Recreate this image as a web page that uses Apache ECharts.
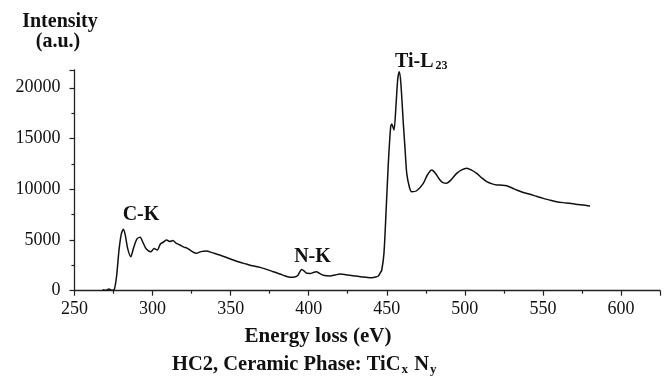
<!DOCTYPE html>
<html>
<head>
<meta charset="utf-8">
<script src="https://cdn.jsdelivr.net/npm/echarts@6/dist/echarts.min.js"></script>
<style>
html,body{margin:0;padding:0;background:#fff;}
#chart{width:667px;height:384px;}
</style>
</head>
<body>
<div id="chart"></div>
<script>
// Energy loss (eV)
const energy = [
  268, 270, 272, 274, 275.5, 277, 278.5, 280, 281.3, 282.5, 284, 286, 288, 290, 292, 294, 296, 298.8,
  301, 303, 305, 307, 309, 311, 313, 315, 317.6, 320, 322, 325, 328, 331, 334.7, 338, 343, 347,
  351.7, 356, 360, 364, 368.8, 373, 377.3, 381.6, 385, 388, 391, 393, 395.5, 397, 398.7, 401,
  403, 405, 407, 409.4, 413.6, 417, 420, 423, 426.5, 430, 433, 437, 440.3, 443, 444.6, 446,
  446.8, 448.2, 449.5, 451, 452.5, 453.2, 454.6, 456, 457, 458, 459, 460.6, 461.7, 462.8, 464.5,
  466, 469.2, 473.4, 476, 478.8, 481, 484.1, 486, 488.4, 491, 494.8, 498, 501.2, 504, 507.6, 511,
  514, 517, 520.4, 524, 526.8, 530, 533.2, 537, 541.8, 546, 550.3, 554, 558.8, 563, 567.4, 571,
  575.9, 578, 580.2
];
// Intensity (a.u.)
const intensity = [
  100, 40, 160, 40, 120, 1500, 4000, 5600, 6050, 5500, 4200, 3350, 4300, 5100, 5260, 4700, 4100, 3840,
  4150, 4000, 4600, 4800, 4990, 4850, 4950, 4700, 4500, 4300, 4200, 3900, 3680, 3850, 3910, 3750, 3520, 3300,
  3020, 2800, 2630, 2450, 2300, 2100, 1870, 1645, 1450, 1320, 1350, 1500, 2100, 1950, 1710, 1700,
  1800, 1870, 1700, 1515, 1450, 1550, 1645, 1600, 1515, 1450, 1380, 1320, 1280, 1350, 1450, 1800,
  2040, 3680, 7620, 12550, 16160, 16420, 15830, 18500, 20800, 21580, 20500, 16490, 14000, 11560, 10200,
  9750, 9850, 10580, 11400, 11890, 11600, 10900, 10650, 10580, 10900, 11560, 11900, 12060, 11900, 11560, 11100,
  10740, 10550, 10410, 10400, 10340, 10150, 9920, 9700, 9500, 9300, 9100, 8950, 8770, 8680, 8610, 8520,
  8440, 8400, 8340
];
const xTicks = [250, 300, 350, 400, 450, 500, 550, 600];
const yTicks = [0, 5000, 10000, 15000, 20000];

const serif = '"Liberation Serif", "Times New Roman", serif';
const data = energy.map((e, i) => [e, intensity[i]]);

const chart = echarts.init(document.getElementById('chart'), null, {renderer: 'canvas'});
chart.setOption({
  animation: false,
  backgroundColor: '#fff',
  grid: {left: 74.5, right: 7, top: 70, bottom: 93.3, containLabel: false},
  xAxis: {
    type: 'value', min: 250, max: 625, interval: 50,
    axisLine: {lineStyle: {color: '#222', width: 1.3}},
    axisTick: {show: true, length: 5, inside: false, lineStyle: {color: '#222', width: 1.2}},
    minorTick: {show: true, splitNumber: 2, length: 3, lineStyle: {color: '#222', width: 1.2}},
    splitLine: {show: false},
    axisLabel: {
      color: '#111', fontFamily: serif, fontSize: 18, margin: 10, showMaxLabel: false,
      formatter: v => (xTicks.indexOf(v) >= 0 ? String(v) : '')
    }
  },
  yAxis: {
    type: 'value', min: 0, max: 21750, interval: 5000,
    axisLine: {show: true, lineStyle: {color: '#222', width: 1.3}},
    axisTick: {show: true, length: 5, inside: false, lineStyle: {color: '#222', width: 1.2}},
    minorTick: {show: true, splitNumber: 2, length: 3, lineStyle: {color: '#222', width: 1.2}},
    splitLine: {show: false},
    axisLabel: {
      color: '#111', fontFamily: serif, fontSize: 18, margin: 14, showMaxLabel: false,
      formatter: v => (yTicks.indexOf(v) >= 0 ? String(v) : '')
    }
  },
  series: [{
    type: 'line', data: data, showSymbol: false, smooth: 0.25,
    lineStyle: {color: '#111', width: 1.5}
  }],
  graphic: [
    {type: 'text', x: 60, y: 22, style: {text: 'Intensity', font: 'bold 20px ' + serif, fill: '#111', align: 'center', verticalAlign: 'middle', textAlign: 'center', textVerticalAlign: 'middle'}},
    {type: 'text', x: 58, y: 42, style: {text: '(a.u.)', font: 'bold 20px ' + serif, fill: '#111', align: 'center', verticalAlign: 'middle', textAlign: 'center', textVerticalAlign: 'middle'}},
    {type: 'text', x: 141, y: 215, style: {text: 'C-K', font: 'bold 20px ' + serif, fill: '#111', align: 'center', verticalAlign: 'middle', textAlign: 'center', textVerticalAlign: 'middle'}},
    {type: 'text', x: 312.5, y: 256.5, style: {text: 'N-K', font: 'bold 20px ' + serif, fill: '#111', align: 'center', verticalAlign: 'middle', textAlign: 'center', textVerticalAlign: 'middle'}},
    {type: 'text', x: 395, y: 61.5, style: {text: 'Ti-L', font: 'bold 20px ' + serif, fill: '#111', align: 'left', verticalAlign: 'middle', textAlign: 'left', textVerticalAlign: 'middle'}},
    {type: 'text', x: 435.5, y: 66, style: {text: '23', font: 'bold 12px ' + serif, fill: '#111', align: 'left', verticalAlign: 'middle', textAlign: 'left', textVerticalAlign: 'middle'}},
    {type: 'text', x: 318, y: 337, style: {text: 'Energy loss (eV)', font: 'bold 21px ' + serif, fill: '#111', align: 'center', verticalAlign: 'middle', textAlign: 'center', textVerticalAlign: 'middle'}},
    {type: 'text', x: 172, y: 366, style: {
      text: '{m|HC2, Ceramic Phase: TiC}{s|x}{m| N}{s|y}',
      fill: '#111', align: 'left', verticalAlign: 'middle', textAlign: 'left', textVerticalAlign: 'middle',
      rich: {
        m: {font: 'bold 20.5px ' + serif, fill: '#111', fontSize: 20.5, fontWeight: 'bold', fontFamily: serif, lineHeight: 20, verticalAlign: 'bottom', padding: [0, 0, 1, 0]},
        s: {font: 'bold 13px ' + serif, fill: '#111', fontSize: 13, fontWeight: 'bold', fontFamily: serif, lineHeight: 13, verticalAlign: 'bottom', padding: [0, 1, 0, 1]}
      }
    }}
  ]
});
</script>
</body>
</html>
